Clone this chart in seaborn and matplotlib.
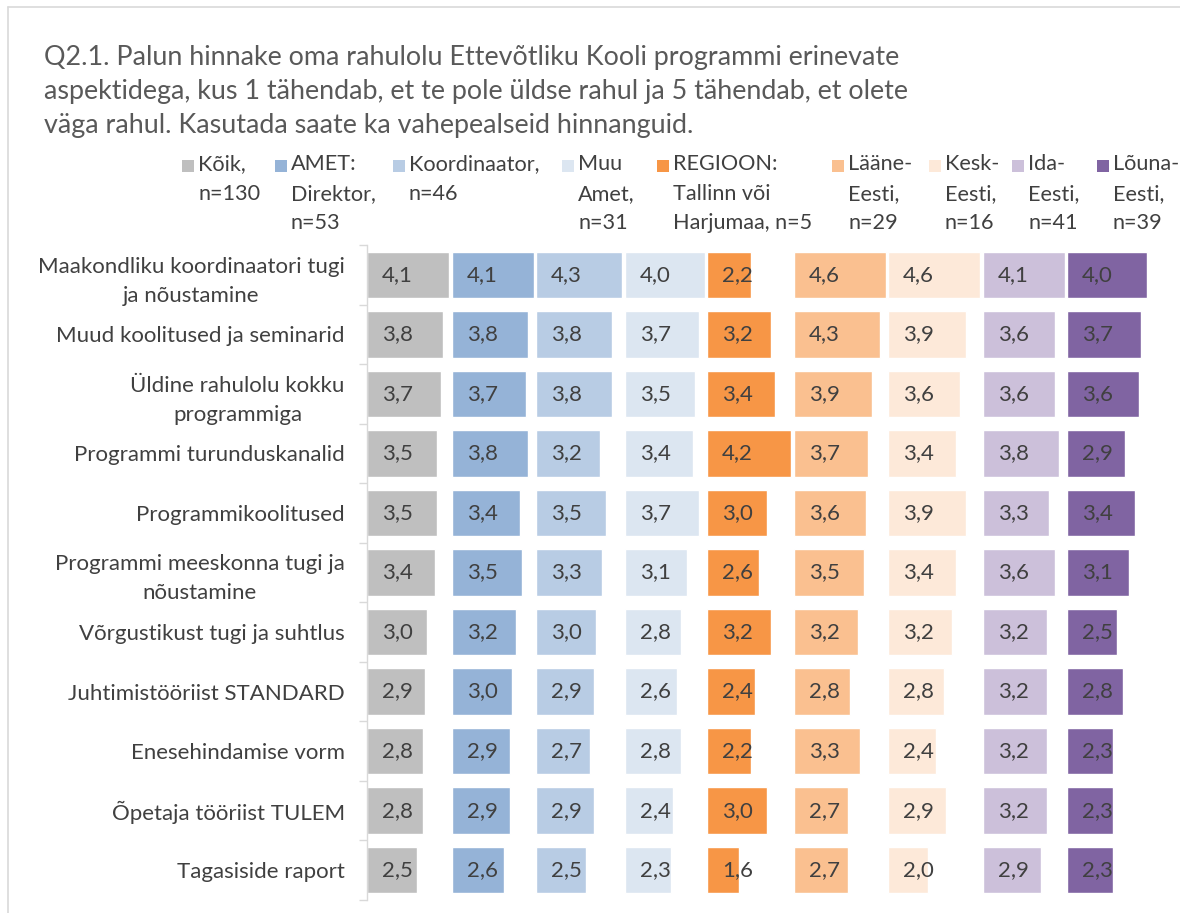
import matplotlib
matplotlib.use("Agg")
import matplotlib.pyplot as plt
import seaborn as sns
import pandas as pd
import numpy as np
from matplotlib.patches import Rectangle
from matplotlib.lines import Line2D

# ---------------- data ----------------
categories = [
    "Maakondliku koordinaatori tugi\nja nõustamine",
    "Muud koolitused ja seminarid",
    "Üldine rahulolu kokku\nprogrammiga",
    "Programmi turunduskanalid",
    "Programmikoolitused",
    "Programmi meeskonna tugi ja\nnõustamine",
    "Võrgustikust tugi ja suhtlus",
    "Juhtimistööriist STANDARD",
    "Enesehindamise vorm",
    "Õpetaja tööriist TULEM",
    "Tagasiside raport",
]

group_labels = [
    "Kõik,\nn=130",
    "AMET:\nDirektor,\nn=53",
    "Koordinaator,\nn=46",
    "Muu\nAmet,\nn=31",
    "REGIOON:\nTallinn või\nHarjumaa, n=5",
    "Lääne-\nEesti,\nn=29",
    "Kesk-\nEesti,\nn=16",
    "Ida-\nEesti,\nn=41",
    "Lõuna-\nEesti,\nn=39",
]

koik         = [4.1, 3.8, 3.7, 3.5, 3.5, 3.4, 3.0, 2.9, 2.8, 2.8, 2.5]
direktor     = [4.1, 3.8, 3.7, 3.8, 3.4, 3.5, 3.2, 3.0, 2.9, 2.9, 2.6]
koordinaator = [4.3, 3.8, 3.8, 3.2, 3.5, 3.3, 3.0, 2.9, 2.7, 2.9, 2.5]
muu_amet     = [4.0, 3.7, 3.5, 3.4, 3.7, 3.1, 2.8, 2.6, 2.8, 2.4, 2.3]
tallinn      = [2.2, 3.2, 3.4, 4.2, 3.0, 2.6, 3.2, 2.4, 2.2, 3.0, 1.6]
laane        = [4.6, 4.3, 3.9, 3.7, 3.6, 3.5, 3.2, 2.8, 3.3, 2.7, 2.7]
kesk         = [4.6, 3.9, 3.6, 3.4, 3.9, 3.4, 3.2, 2.8, 2.4, 2.9, 2.0]
ida          = [4.1, 3.6, 3.6, 3.8, 3.3, 3.6, 3.2, 3.2, 3.2, 3.2, 2.9]
louna        = [4.0, 3.7, 3.6, 2.9, 3.4, 3.1, 2.5, 2.8, 2.3, 2.3, 2.3]

series = [koik, direktor, koordinaator, muu_amet, tallinn, laane, kesk, ida, louna]

colors = ["#BFBFBF", "#95B3D7", "#B8CCE4", "#DCE6F1", "#F79646",
          "#FAC090", "#FDE9D9", "#CCC0DA", "#8064A2"]

title = ("Q2.1. Palun hinnake oma rahulolu Ettevõtliku Kooli programmi erinevate\n"
         "aspektidega, kus 1 tähendab, et te pole üldse rahul ja 5 tähendab, et olete\n"
         "väga rahul. Kasutada saate ka vahepealseid hinnanguid.")

# ---------------- style ----------------
sns.set_theme(style="white")
plt.rcParams["font.family"] = ["Lato", "DejaVu Sans"]
TXT = "#404040"

W, H = 1180, 913
fig = plt.figure(figsize=(W / 100, H / 100), dpi=100)
ax = fig.add_axes([367 / W, 1 - 900 / H, (1178 - 367) / W, (900 - 245) / H])

gap = 0.12
offsets = np.concatenate([[0], np.cumsum([max(s) + gap for s in series])[:-1]])

for vals, col, off in zip(series, colors, offsets):
    df = pd.DataFrame({"cat": categories, "val": vals})
    sns.barplot(data=df, x="val", y="cat", orient="h", color=col, left=off,
                width=0.78, edgecolor="white", linewidth=1, errorbar=None,
                saturation=1, ax=ax)
    for i, v in enumerate(vals):
        ax.text(off + 0.75, i, f"{v:.1f}".replace(".", ","), ha="left",
                va="center", fontsize=16, color=TXT)

ax.set_xlim(0, 40.5)
ax.set_ylim(len(categories) - 0.5, -0.5)
ax.set_xlabel("")
ax.set_ylabel("")
ax.set_xticks([])
for s in ["top", "right", "bottom"]:
    ax.spines[s].set_visible(False)
ax.spines["left"].set_color("#D9D9D9")
ax.spines["left"].set_linewidth(1)
ax.set_yticks(np.arange(-0.5, len(categories), 1), minor=True)
ax.tick_params(axis="y", which="major", length=0, pad=16, labelsize=16,
               labelcolor=TXT)
ax.tick_params(axis="y", which="minor", length=6, color="#D9D9D9", width=1,
               left=True)
for lbl in ax.get_yticklabels():
    lbl.set_multialignment("center")
    lbl.set_linespacing(1.55)

# title
fig.text(44 / W, 1 - 45 / H, title, ha="left", va="top", fontsize=19.4,
         color="#595959", linespacing=1.45)

# legend (manual, Excel style: marker aligned with first line)
marker_x = [182, 275, 393, 562, 657, 832, 929, 1012, 1097]
for mx, lab, col in zip(marker_x, group_labels, colors):
    fig.add_artist(Rectangle((mx / W, 1 - 172 / H), 12 / W, 12 / H,
                             transform=fig.transFigure, facecolor=col,
                             edgecolor="none"))
    fig.text((mx + 16) / W, 1 - 154 / H, lab, ha="left", va="top",
             fontsize=15.6, color=TXT, linespacing=1.6)

# chart border
fig.add_artist(Line2D([8 / W, 1], [1 - 7 / H, 1 - 7 / H], color="#D9D9D9",
                      lw=1.2, transform=fig.transFigure))
fig.add_artist(Line2D([8 / W, 8 / W], [0, 1 - 7 / H], color="#D9D9D9",
                      lw=1.2, transform=fig.transFigure))

fig.savefig("out.png", dpi=100)
